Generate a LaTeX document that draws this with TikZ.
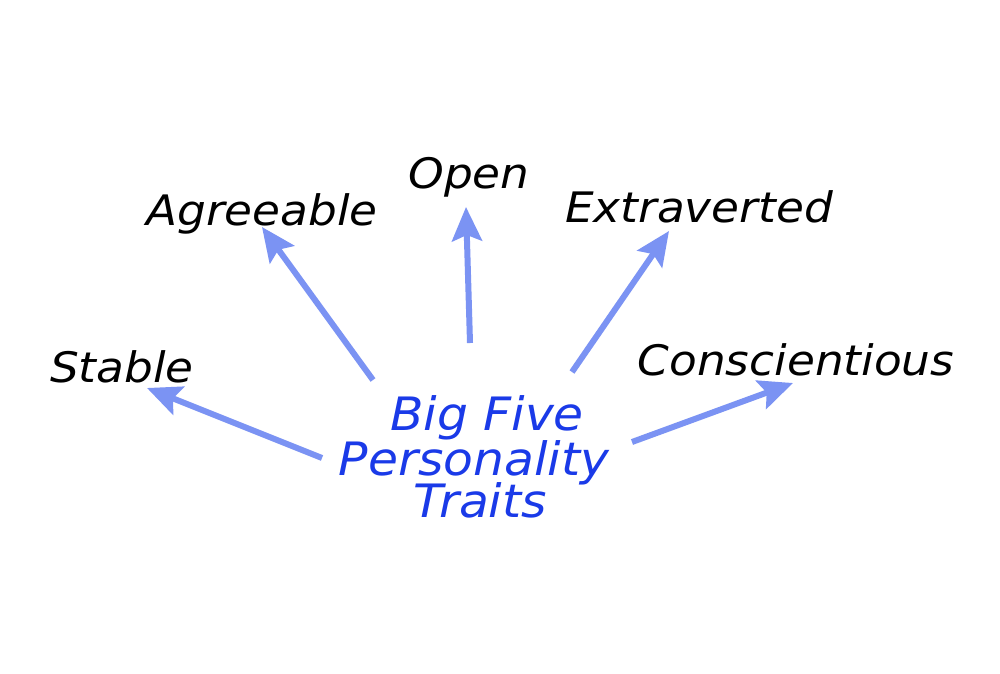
\documentclass[tikz,border=0pt]{standalone}
\usepackage{fontspec}
\setmainfont{DejaVu Sans}
\usetikzlibrary{arrows.meta}
\definecolor{arrowblue}{HTML}{7B93F3}
\definecolor{titleblue}{HTML}{1A3AE8}
\tikzset{
  trait/.style={anchor=base, inner sep=0pt, xscale=1.08, font=\fontsize{42}{46}\selectfont\itshape, text=black},
  ttl/.style={anchor=base, inner sep=0pt, xscale=1.06, font=\fontsize{46}{50}\selectfont\itshape, text=titleblue},
  pointer/.style={draw=arrowblue, line width=6pt, -{Stealth[length=34pt,width=30pt,inset=6pt]}}
}
\begin{document}
\begin{tikzpicture}[x=1pt,y=-1pt]
\path[fill=white] (0,0) rectangle (1000,673);
\useasboundingbox (0,0) rectangle (1000,673);
% title
\node[ttl] (t1) at (487,430) {Big Five};
\node[ttl] (t2) at (474,475) {Personality};
\node[ttl] (t3) at (480,517) {Traits};
% traits
\node[trait] (stable) at (122,382) {Stable};
\node[trait] (agree) at (262,225) {Agreeable};
\node[trait] (open) at (469,188) {Open};
\node[trait] (extra) at (699,222) {Extraverted};
\node[trait] (consc) at (796,375) {Conscientious};
% arrow ends
\coordinate (s1) at (322,458); \coordinate (e1) at (147,388);
\coordinate (s2) at (373,380); \coordinate (e2) at (262,227);
\coordinate (s3) at (470,343); \coordinate (e3) at (466,207);
\coordinate (s4) at (572,372); \coordinate (e4) at (669,231);
\coordinate (s5) at (632,442); \coordinate (e5) at (793,383);
\draw[pointer] (s1) -- (e1);
\draw[pointer] (s2) -- (e2);
\draw[pointer] (s3) -- (e3);
\draw[pointer] (s4) -- (e4);
\draw[pointer] (s5) -- (e5);
\end{tikzpicture}
\end{document}
